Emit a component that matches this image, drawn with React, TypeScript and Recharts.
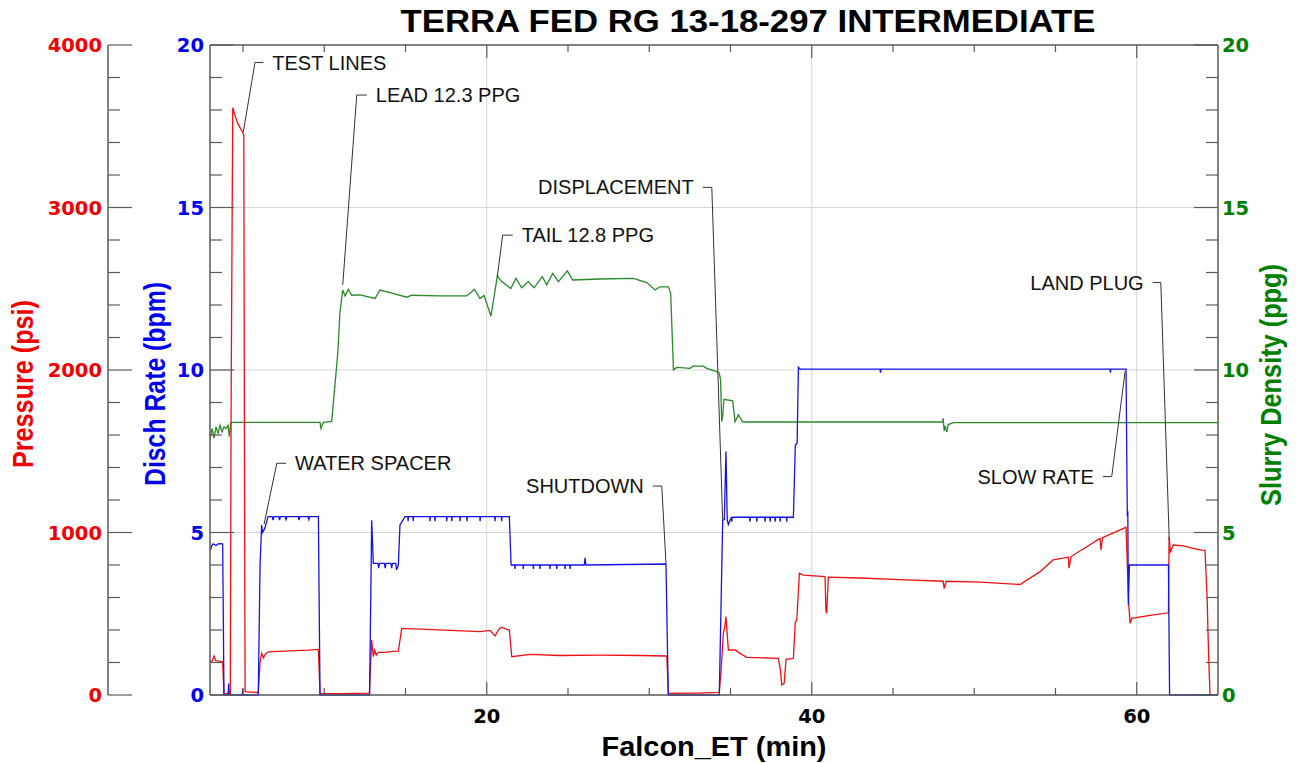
import React from 'react';
import { ComposedChart, Line, XAxis, YAxis, ReferenceLine, CartesianGrid } from 'recharts';

// ---------- axis ticks ----------
const timeTicks = [5, 10, 15, 20, 25, 30, 35, 40, 45, 50, 55, 60];
const majorTimeTicks = [20, 40, 60];
const rateTicks = [0, 1, 2, 3, 4, 5, 6, 7, 8, 9, 10, 11, 12, 13, 14, 15, 16, 17, 18, 19, 20];
const majorRateTicks = [0, 5, 10, 15, 20];
const pressureTicks = [0, 200, 400, 600, 800, 1000, 1200, 1400, 1600, 1800, 2000, 2200, 2400, 2600, 2800, 3000, 3200, 3400, 3600, 3800, 4000];
const majorPressureTicks = [0, 1000, 2000, 3000, 4000];

// ---------- series: [time (min), value] ----------
const pressurePoints: [number, number][] = [
  [2.97, 205], [3.1, 210], [3.22, 240], [3.32, 212], [3.75, 205], [3.83, 10], [4.22, 8], [4.27, 1800],
  [4.37, 3614], [4.5, 3570], [4.65, 3525], [4.8, 3495], [4.95, 3470], [5.05, 3445], [5.09, 1500], [5.13, 20],
  [5.5, 18], [5.94, 15], [6.05, 200], [6.15, 256], [6.26, 228], [6.36, 250], [6.56, 266], [7.9, 272],
  [9.0, 276], [9.64, 281], [9.74, 10], [11.0, 8], [12.78, 12], [12.86, 200], [12.92, 338], [13.02, 236],
  [13.1, 275], [13.2, 245], [13.31, 262], [13.74, 262], [14.2, 268], [14.56, 270], [14.77, 410], [15.9, 405],
  [17.74, 398], [19.59, 390], [20.2, 398], [20.51, 363], [20.75, 405], [20.92, 417], [21.2, 405], [21.39, 400],
  [21.54, 236], [22.66, 250], [24.51, 243], [26.97, 245], [29.43, 243], [31.08, 240], [31.18, 10], [33.0, 12],
  [34.31, 16], [34.42, 150], [34.56, 380], [34.65, 420], [34.72, 482], [34.87, 277], [35.28, 277], [35.59, 256],
  [36.0, 232], [37.94, 226], [38.08, 150], [38.15, 62], [38.3, 70], [38.42, 220], [38.87, 226], [38.99, 451],
  [39.08, 460], [39.24, 749], [39.48, 738], [40.82, 728], [40.87, 520], [40.92, 503], [40.97, 620], [41.02, 725],
  [42.97, 720], [45.43, 710], [48.09, 700], [48.15, 655], [48.27, 700], [50.36, 695], [52.82, 680], [54.05, 759],
  [54.85, 831], [55.79, 848], [55.83, 780], [55.96, 852], [57.74, 964], [57.8, 892], [57.89, 968], [59.34, 1032],
  [59.42, 800], [59.51, 554], [59.59, 441], [59.69, 472], [60.82, 490], [61.95, 506], [61.99, 974], [62.07, 882],
  [62.26, 923], [62.87, 918], [63.48, 903], [64.0, 892], [64.2, 890], [64.33, 600], [64.42, 250], [64.51, 0],
];

const ratePoints: [number, number][] = [
  [2.97, 4.46], [3.03, 4.5], [3.08, 4.6], [3.16, 4.65], [3.34, 4.6], [3.5, 4.66], [3.75, 4.65], [3.83, 0],
  [4.08, 0], [4.12, 0.35], [4.16, 0], [4.96, 0], [4.98, 0.2], [5.0, 0], [5.94, 0], [6.05, 4.0], [6.15, 5.23],
  [6.2, 5.0], [6.26, 5.05], [6.36, 5.15], [6.54, 5.49], [6.8, 5.49], [6.85, 5.38], [6.9, 5.49], [7.2, 5.49],
  [7.25, 5.38], [7.3, 5.49], [7.6, 5.49], [7.65, 5.4], [7.7, 5.49], [8.4, 5.49], [8.45, 5.38], [8.5, 5.49],
  [9.0, 5.49], [9.05, 5.4], [9.1, 5.49], [9.64, 5.49], [9.74, 0], [12.79, 0], [12.92, 5.38], [13.02, 4.05],
  [13.3, 4.05], [13.35, 3.9], [13.4, 4.05], [13.7, 4.05], [13.75, 3.9], [13.8, 4.05], [14.1, 4.05], [14.15, 3.9],
  [14.2, 4.05], [14.4, 4.05], [14.45, 3.85], [14.56, 4.0], [14.66, 5.23], [14.97, 5.49],
  [15.14, 5.49], [15.16, 5.35], [15.18, 5.49], [15.45, 5.49], [15.47, 5.35], [15.49, 5.49],
  [16.49, 5.49], [16.51, 5.35], [16.53, 5.49], [16.8, 5.49], [16.82, 5.35], [16.84, 5.49],
  [17.52, 5.49], [17.54, 5.35], [17.56, 5.49], [17.83, 5.49], [17.85, 5.35], [17.87, 5.49],
  [18.34, 5.49], [18.36, 5.35], [18.38, 5.49], [18.77, 5.49], [18.79, 5.35], [18.81, 5.49],
  [19.57, 5.49], [19.59, 5.35], [19.61, 5.49], [20.49, 5.49], [20.51, 5.35], [20.53, 5.49],
  [20.9, 5.49], [20.92, 5.35], [20.94, 5.49], [21.39, 5.49], [21.5, 4.0],
  [21.72, 4.0], [21.74, 3.88], [21.76, 4.0], [22.23, 4.0], [22.25, 3.88], [22.27, 4.0],
  [22.85, 4.0], [22.87, 3.88], [22.89, 4.0], [23.26, 4.0], [23.28, 3.88], [23.3, 4.0],
  [23.87, 4.0], [23.89, 3.88], [23.91, 4.0], [24.29, 4.0], [24.31, 3.88], [24.33, 4.0],
  [24.8, 4.0], [24.82, 3.88], [24.84, 4.0], [25.11, 4.0], [25.13, 3.88], [25.15, 4.0],
  [26.0, 4.0], [26.05, 4.22], [26.1, 4.0], [31.03, 4.03], [31.17, 0], [34.31, 0], [34.52, 5.38],
  [34.62, 5.4], [34.72, 7.49], [34.8, 5.38], [34.87, 5.25], [34.95, 5.35], [35.06, 5.47], [35.08, 5.33],
  [35.1, 5.47], [36.18, 5.47], [36.2, 5.33], [36.22, 5.47], [36.6, 5.47], [36.62, 5.33], [36.64, 5.47],
  [37.11, 5.47], [37.13, 5.33], [37.15, 5.47], [37.42, 5.47], [37.44, 5.33], [37.46, 5.47],
  [37.73, 5.47], [37.75, 5.33], [37.77, 5.47], [38.04, 5.47], [38.06, 5.33], [38.08, 5.47],
  [38.44, 5.47], [38.46, 5.33], [38.48, 5.47], [38.87, 5.47], [38.99, 7.69], [39.1, 7.75],
  [39.18, 10.08], [39.28, 10.03], [44.2, 10.03], [44.23, 9.92], [44.26, 10.03], [58.35, 10.03],
  [58.38, 9.92], [58.41, 10.03], [59.34, 10.03], [59.42, 5.49], [59.45, 5.65], [59.48, 2.77], [59.55, 4.0],
  [61.95, 4.0], [62.02, 0], [65.0, 0],
];

const densityPoints: [number, number][] = [
  [2.97, 7.85], [3.1, 8.2], [3.22, 7.9], [3.34, 8.25], [3.47, 8.05], [3.59, 8.3], [3.71, 8.1], [3.83, 8.25],
  [3.96, 8.2], [4.08, 8.3], [4.16, 7.95], [4.25, 8.39], [9.74, 8.39], [9.8, 8.2], [9.94, 8.39], [10.46, 8.42],
  [10.83, 10.5], [10.97, 11.8], [11.14, 12.46], [11.28, 12.28], [11.48, 12.48], [11.69, 12.3], [12.2, 12.31],
  [13.13, 12.2], [13.43, 12.46], [14.05, 12.38], [15.08, 12.24], [15.38, 12.3], [17.13, 12.28], [18.77, 12.28],
  [19.24, 12.48], [19.59, 12.2], [19.83, 12.3], [20.26, 11.66], [20.65, 12.89], [20.92, 12.72], [21.48, 12.51],
  [21.8, 12.82], [22.15, 12.53], [22.56, 12.72], [22.91, 12.53], [23.42, 12.87], [23.69, 12.62], [24.06, 12.97],
  [24.41, 12.72], [24.96, 13.05], [25.29, 12.77], [26.97, 12.8], [29.02, 12.82], [29.85, 12.69], [30.36, 12.46],
  [30.66, 12.56], [31.18, 12.56], [31.32, 12.36], [31.49, 10.0], [31.69, 10.08], [32.51, 10.05], [32.71, 10.12],
  [33.33, 10.12], [33.54, 10.05], [34.15, 9.95], [34.31, 9.9], [34.39, 9.7], [34.46, 8.41], [34.52, 8.6],
  [34.6, 9.1], [35.14, 9.05], [35.28, 8.41], [35.49, 8.62], [35.69, 8.46], [35.77, 8.4], [39.28, 8.4],
  [48.05, 8.4], [48.09, 8.51], [48.15, 8.13], [48.2, 8.28], [48.31, 8.1], [48.4, 8.32], [48.71, 8.38], [65.0, 8.38],
];

// ---------- annotations: target point, elbow of the leader, end of the short horizontal, text side ----------
const annotations = [
  { text: 'TEST LINES', target: [5.02, 17.33], elbow: [5.74, 19.46], tail: 6.25, side: 'right' },
  { text: 'LEAD 12.3 PPG', target: [11.14, 12.62], elbow: [12.0, 18.46], tail: 12.62, side: 'right' },
  { text: 'TAIL 12.8 PPG', target: [20.65, 12.87], elbow: [20.98, 14.15], tail: 21.6, side: 'right' },
  { text: 'WATER SPACER', target: [6.3, 5.26], elbow: [7.08, 7.13], tail: 7.65, side: 'right' },
  { text: 'DISPLACEMENT', target: [34.52, 5.38], elbow: [33.85, 15.62], tail: 33.29, side: 'left' },
  { text: 'SHUTDOWN', target: [31.03, 4.05], elbow: [30.77, 6.43], tail: 30.22, side: 'left' },
  { text: 'SLOW RATE', target: [59.28, 9.95], elbow: [58.46, 6.72], tail: 57.91, side: 'left' },
  { text: 'LAND PLUG', target: [62.0, 4.77], elbow: [61.48, 12.69], tail: 60.98, side: 'left' },
];

const pressureData = pressurePoints.map(([t, v]) => ({ t, p: v }));
const rateData = ratePoints.map(([t, v]) => ({ t, r: v }));
const densityData = densityPoints.map(([t, v]) => ({ t, d: v }));

const RED = '#ee1111';
const BLUE = '#1414e6';
const GREEN = '#2a8a2a';
const RED_TXT = '#f00000';
const BLUE_TXT = '#0000f0';
const GREEN_TXT = '#008000';
const AXIS = '#5a5a5a';
const NUM_FONT = "'DejaVu Sans', Verdana, sans-serif";
const LBL_FONT = "'Liberation Sans', Arial, sans-serif";
const NARROW = "'Liberation Sans Narrow', 'Liberation Sans', Arial, sans-serif";

// axis ids (Recharts stacks left axes by id: "a" sits next to the plot, "b" outside it)
const RATE_AXIS = 'a';
const PRESSURE_AXIS = 'b';
const DENSITY_AXIS = 'd';

const BottomTick = (props: any) => {
  const { x, y, payload } = props;
  const major = majorTimeTicks.includes(payload.value);
  return (
    <g>
      <line x1={x} y1={y} x2={x} y2={y - (major ? 13 : 7)} stroke={AXIS} strokeWidth={1.2} />
      {major && (
        <text x={x} y={y + 28} textAnchor="middle" fontSize={19.5} fontWeight="bold" fontFamily={NUM_FONT} fill="#000">
          {payload.value}
        </text>
      )}
    </g>
  );
};

const TopTick = (props: any) => {
  const { x, y, payload } = props;
  const major = majorTimeTicks.includes(payload.value);
  return <line x1={x} y1={y} x2={x} y2={y + (major ? 13 : 7)} stroke={AXIS} strokeWidth={1.2} />;
};

const makeLeftTick = (majors: number[], color: string) => (props: any) => {
  const { x, y, payload } = props;
  const major = majors.includes(payload.value);
  return (
    <g>
      <line x1={x} y1={y} x2={x + (major ? 24 : 12)} y2={y} stroke={AXIS} strokeWidth={1.2} />
      {major && (
        <text x={x - 6} y={y} dy="0.36em" textAnchor="end" fontSize={19.5} fontWeight="bold" fontFamily={NUM_FONT} fill={color}>
          {payload.value}
        </text>
      )}
    </g>
  );
};

const RightTick = (props: any) => {
  const { x, y, payload } = props;
  const major = majorRateTicks.includes(payload.value);
  return (
    <g>
      <line x1={x} y1={y} x2={x - (major ? 24 : 12)} y2={y} stroke={AXIS} strokeWidth={1.2} />
      {major && (
        <text x={x + 4} y={y} dy="0.36em" textAnchor="start" fontSize={19.5} fontWeight="bold" fontFamily={NUM_FONT} fill={GREEN_TXT}>
          {payload.value}
        </text>
      )}
    </g>
  );
};

const PressureTick = makeLeftTick(majorPressureTicks, RED_TXT);
const RateTick = makeLeftTick(majorRateTicks, BLUE_TXT);

export default function App() {
  return (
    <div style={{ position: 'fixed', left: 0, top: 0, width: 1302, height: 763, background: '#fff' }}>
      <ComposedChart width={1302} height={763} margin={{ top: 44, right: 0, bottom: 0, left: 0 }}>
        <CartesianGrid
          xAxisId="bottom"
          yAxisId={RATE_AXIS}
          horizontalValues={[5, 10, 15]}
          verticalValues={[20, 40, 60]}
          stroke="#d6d6d6"
          strokeWidth={1}
        />
        <XAxis
          xAxisId="bottom"
          type="number"
          dataKey="t"
          domain={[2.97, 65]}
          allowDataOverflow
          ticks={timeTicks}
          interval={0}
          height={68}
          tickSize={0}
          tickMargin={0}
          tickLine={false}
          axisLine={{ stroke: AXIS, strokeWidth: 1.5 }}
          tick={<BottomTick />}
        />
        <XAxis
          xAxisId="top"
          orientation="top"
          type="number"
          dataKey="t"
          domain={[2.97, 65]}
          allowDataOverflow
          ticks={timeTicks}
          interval={0}
          height={1}
          tickSize={0}
          tickMargin={0}
          tickLine={false}
          axisLine={{ stroke: AXIS, strokeWidth: 1.5 }}
          tick={<TopTick />}
        />
        <YAxis
          yAxisId={RATE_AXIS}
          orientation="left"
          type="number"
          domain={[0, 20]}
          ticks={rateTicks}
          interval={0}
          width={102}
          tickSize={0}
          tickMargin={0}
          tickLine={false}
          axisLine={{ stroke: AXIS, strokeWidth: 1.5 }}
          tick={<RateTick />}
        />
        <YAxis
          yAxisId={PRESSURE_AXIS}
          orientation="left"
          type="number"
          domain={[0, 4000]}
          ticks={pressureTicks}
          interval={0}
          width={108}
          tickSize={0}
          tickMargin={0}
          tickLine={false}
          axisLine={{ stroke: AXIS, strokeWidth: 1.5 }}
          tick={<PressureTick />}
        />
        <YAxis
          yAxisId={DENSITY_AXIS}
          orientation="right"
          type="number"
          domain={[0, 20]}
          ticks={rateTicks}
          interval={0}
          width={84}
          tickSize={0}
          tickMargin={0}
          tickLine={false}
          axisLine={{ stroke: AXIS, strokeWidth: 1.5 }}
          tick={<RightTick />}
        />
        <Line data={densityData} xAxisId="bottom" yAxisId={DENSITY_AXIS} dataKey="d" type="linear" stroke={GREEN} strokeWidth={1.3} dot={false} isAnimationActive={false} />
        <Line data={pressureData} xAxisId="bottom" yAxisId={PRESSURE_AXIS} dataKey="p" type="linear" stroke={RED} strokeWidth={1.3} dot={false} isAnimationActive={false} />
        <Line data={rateData} xAxisId="bottom" yAxisId={RATE_AXIS} dataKey="r" type="linear" stroke={BLUE} strokeWidth={1.3} dot={false} isAnimationActive={false} />
        {annotations.map((a) => (
          <ReferenceLine
            key={a.text + '-diag'}
            xAxisId="bottom"
            yAxisId={RATE_AXIS}
            segment={[{ x: a.target[0], y: a.target[1] }, { x: a.elbow[0], y: a.elbow[1] }]}
            stroke="#333"
            strokeWidth={1}
            ifOverflow="visible"
          />
        ))}
        {annotations.map((a) => (
          <ReferenceLine
            key={a.text + '-h'}
            xAxisId="bottom"
            yAxisId={RATE_AXIS}
            segment={
              a.side === 'right'
                ? [{ x: a.elbow[0], y: a.elbow[1] }, { x: a.tail, y: a.elbow[1] }]
                : [{ x: a.tail, y: a.elbow[1] }, { x: a.elbow[0], y: a.elbow[1] }]
            }
            stroke="#333"
            strokeWidth={1}
            ifOverflow="visible"
            label={{
              value: a.text,
              position: a.side === 'right' ? 'right' : 'left',
              offset: 9,
              fill: '#111',
              fontSize: 20,
              fontFamily: LBL_FONT,
            }}
          />
        ))}
      </ComposedChart>
      <svg width={1302} height={763} style={{ position: 'absolute', left: 0, top: 0, pointerEvents: 'none' }}>
        <text x={748} y={32} textAnchor="middle" fontSize={31} fontWeight="bold" fontFamily={NARROW} fill="#000" textLength={695} lengthAdjust="spacingAndGlyphs">
          TERRA FED RG 13-18-297 INTERMEDIATE
        </text>
        <text x={714} y={756} textAnchor="middle" fontSize={27} fontWeight="bold" fontFamily={NARROW} fill="#000" textLength={225} lengthAdjust="spacingAndGlyphs">
          Falcon_ET (min)
        </text>
        <text transform="translate(33,384) rotate(-90)" textAnchor="middle" fontSize={29} fontWeight="bold" fontFamily={NARROW} fill={RED_TXT} textLength={168} lengthAdjust="spacingAndGlyphs">
          Pressure (psi)
        </text>
        <text transform="translate(165,384) rotate(-90)" textAnchor="middle" fontSize={29} fontWeight="bold" fontFamily={NARROW} fill={BLUE_TXT} textLength={204} lengthAdjust="spacingAndGlyphs">
          Disch Rate (bpm)
        </text>
        <text transform="translate(1281,385) rotate(-90)" textAnchor="middle" fontSize={29} fontWeight="bold" fontFamily={NARROW} fill={GREEN_TXT} textLength={242} lengthAdjust="spacingAndGlyphs">
          Slurry Density (ppg)
        </text>
      </svg>
    </div>
  );
}
